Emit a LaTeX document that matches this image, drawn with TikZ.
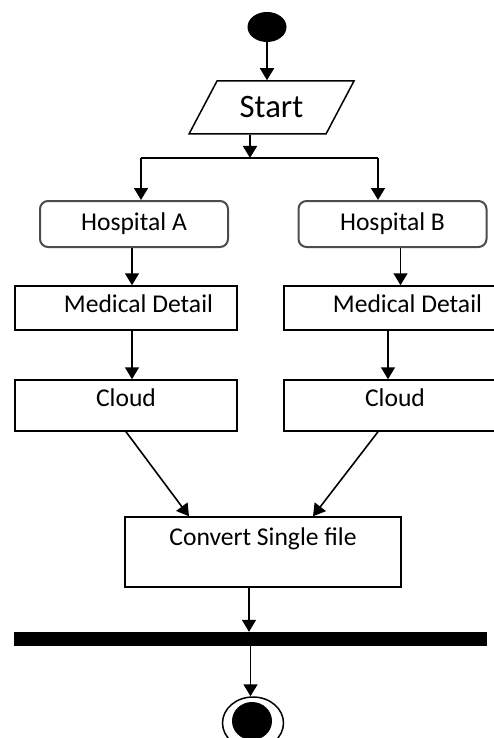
\documentclass[tikz,border=0pt]{standalone}
\usepackage{fontspec}
\setmainfont{Carlito}
\usetikzlibrary{shapes.geometric,arrows.meta}
\tikzset{
actbox/.style={
		draw,
		line width=1.5pt,
		minimum width=222pt,
		inner sep=0pt,
		font=\fontsize{25.6}{30}\selectfont
	},
meddetail/.style={actbox, text width=174pt, align=flush right, text height=26.5pt, text depth=17.5pt},
cloudbox/.style={actbox, text height=26.5pt, text depth=24.5pt},
filebox/.style={actbox, minimum width=276pt, text height=28.5pt, text depth=41.5pt},
hospital/.style={
		draw=black!70,
		line width=2pt,
		rounded corners=8pt,
		minimum width=188pt,
		minimum height=46pt,
		font=\fontsize{25.6}{30}\selectfont
	},
inout/.style={
		draw,
		trapezium,
		trapezium left angle=57.3,
		trapezium right angle=122.7,
		trapezium stretches=true,
		minimum width=165pt,
		minimum height=53pt,
		line width=1.5pt,
		font=\fontsize{32.7}{38}\selectfont
	},
initial/.style={fill, ellipse, inner sep=0pt, minimum width=39pt, minimum height=30pt},
syncbar/.style={fill, inner sep=0pt, minimum width=473pt, minimum height=14pt},
flow/.style={-{Triangle[width=14pt,length=12pt]}, line width=1.6pt}
}

\begin{document}
\begin{tikzpicture}[x=1pt,y=-1pt]
			\useasboundingbox (0,0) rectangle (494,738);
			\node[initial] (init) at (267,27) {};
			\node[inout] (start) at (271.5,107.5) {Start};
			\coordinate (fork) at (250,158);
			\coordinate (forkA) at (141,158);
			\coordinate (forkB) at (378,158);
			\node[hospital] (hosA) at (134,224) {Hospital A};
			\node[hospital] (hosB) at (392.5,224) {Hospital B};
			\node[meddetail] (medA) at (126,308) {Medical Detail};
			\node[meddetail] (medB) at (395,308) {Medical Detail};
			\node[cloudbox] (cloudA) at (126,405.5) {Cloud};
			\node[cloudbox] (cloudB) at (395,405.5) {Cloud};
			\node[filebox] (convert) at (263,552) {Convert Single file};
			\node[syncbar] (bar) at (250.5,639) {};
			\node[draw, ellipse, line width=1.5pt, inner sep=0pt, minimum width=61pt, minimum height=52pt] (final) at (253,723) {};
			\node[initial, minimum width=40pt, minimum height=38pt] (finaldot) at (252,721) {};
			\draw[flow] (init.south) -- (init.south |- start.north);
			\draw[flow] (start.south -| fork) -- (fork);
			\draw[line width=1.6pt] (forkA) -- (forkB);
			\draw[flow] (forkA) -- (forkA |- hosA.north);
			\draw[flow] (forkB) -- (forkB |- hosB.north);
			\draw[flow] ([xshift=-2pt]hosA.south) -- ([xshift=-2pt]hosA.south |- medA.north);
			\draw[flow] ([xshift=8pt]hosB.south) -- ([xshift=8pt]hosB.south |- medB.north);
			\draw[flow] ([xshift=6pt]medA.south) -- ([xshift=6pt]medA.south |- cloudA.north);
			\draw[flow] ([xshift=-7pt]medB.south) -- ([xshift=-7pt]medB.south |- cloudB.north);
			\draw[flow] (cloudA.south) -- ([xshift=-74pt]convert.north);
			\draw[flow] ([xshift=-17pt]cloudB.south) -- ([xshift=50pt]convert.north);
			\draw[flow] ([xshift=-14pt]convert.south) -- ([xshift=-14pt]convert.south |- bar.north);
			\draw[flow] (bar.south) -- (bar.south |- final.north);
			\end{tikzpicture}
\end{document}
